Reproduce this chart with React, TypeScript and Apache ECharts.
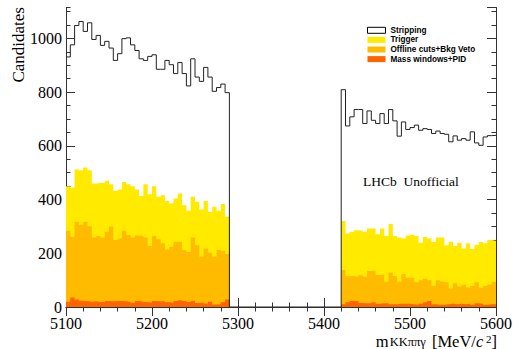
import React, { useEffect, useRef } from "react";
import * as echarts from "echarts";

// Bin layout (MeV/c^2)
const BIN_WIDTH = 5;
const LEFT_START = 5100;
const RIGHT_START = 5420;
const GAP_START = 5290;
const X_END = 5600;

// Stripping (outline)
const strippingLeft = [931, 976, 1048, 1063, 1026, 1058, 996, 1011, 974, 989, 964, 918, 943, 999, 1002, 976, 955, 924, 918, 933, 939, 885, 885, 918, 902, 869, 910, 869, 823, 924, 856, 840, 892, 856, 803, 817, 830, 798];
const strippingRight = [809, 674, 708, 735, 735, 683, 730, 695, 683, 720, 683, 735, 693, 636, 689, 661, 668, 677, 658, 664, 661, 646, 655, 646, 643, 615, 637, 621, 627, 621, 652, 611, 602, 633, 638, 639];

// Trigger (yellow)
const triggerLeft = [450, 445, 512, 509, 519, 509, 460, 462, 462, 470, 457, 432, 437, 465, 457, 450, 437, 413, 457, 420, 450, 410, 416, 395, 385, 404, 423, 379, 358, 410, 392, 363, 395, 354, 373, 358, 383, 336];
const triggerRight = [320, 274, 280, 286, 284, 280, 292, 292, 271, 292, 264, 309, 264, 259, 255, 266, 269, 264, 239, 261, 255, 242, 259, 259, 230, 243, 227, 239, 218, 237, 216, 232, 242, 237, 249, 247];

// Offline cuts + Bkg Veto (orange)
const offlineLeft = [284, 261, 317, 305, 317, 301, 259, 264, 259, 280, 299, 249, 255, 284, 268, 259, 266, 264, 259, 227, 264, 252, 237, 214, 224, 243, 243, 212, 206, 259, 230, 187, 218, 202, 187, 212, 209, 197];
const offlineRight = [138, 115, 115, 113, 118, 113, 134, 135, 119, 121, 94, 128, 115, 94, 123, 109, 109, 92, 100, 104, 100, 78, 100, 95, 92, 69, 88, 76, 83, 73, 78, 92, 72, 78, 84, 94];

// Mass windows + PID (red-orange)
const massLeft = [20, 35, 28, 23, 22, 20, 21, 19, 19, 22, 21, 22, 22, 21, 20, 16, 22, 20, 18, 17, 22, 21, 21, 18, 16, 22, 25, 22, 19, 22, 15, 17, 13, 20, 9, 10, 18, 28];
const massRight = [10, 18, 22, 22, 15, 14, 14, 18, 12, 14, 14, 10, 10, 12, 12, 12, 10, 8, 12, 18, 22, 10, 8, 8, 10, 12, 10, 12, 10, 12, 8, 14, 12, 8, 10, 10];

const xTicks = [5100, 5200, 5300, 5400, 5500, 5600];
const Y_MAX = 1115;

const legendNames = ["Stripping", "Trigger", "Offline cuts+Bkg Veto", "Mass windows+PID"];

function histPoints(left: number[], right: number[]): number[][] {
  const pts: number[][] = [];
  left.forEach((v, i) => pts.push([LEFT_START + i * BIN_WIDTH, v]));
  pts.push([GAP_START, 0]);
  right.forEach((v, i) => pts.push([RIGHT_START + i * BIN_WIDTH, v]));
  pts.push([X_END, right[right.length - 1]]);
  return pts;
}

const SERIF = "'Liberation Serif', 'Times New Roman', serif";
const SANS = "'Liberation Sans', Arial, sans-serif";

export default function App() {
  const ref = useRef<HTMLDivElement>(null);
  useEffect(() => {
    if (!ref.current) return;
    const chart = echarts.init(ref.current, undefined, { renderer: "svg" });
    const grid = { left: 66, top: 7.5, width: 431, height: 299.5 };
    const axisCol = "#333";
    const filled = (name: string, color: string, l: number[], r: number[], z: number) => ({
      name,
      type: "line",
      step: "end",
      data: histPoints(l, r),
      symbol: "none",
      color,
      lineStyle: { width: 0, opacity: 0 },
      areaStyle: { color, opacity: 1 },
      z,
      silent: true,
    });
    const yMinor = (pos: "left" | "right") => ({
      type: "value",
      position: pos,
      min: 0,
      max: Y_MAX,
      interval: 50,
      axisLine: { show: false },
      axisTick: { show: true, inside: true, length: 4.5, lineStyle: { color: axisCol } },
      axisLabel: { show: false },
      splitLine: { show: false },
    });
    const plain = (v: number) => String(v);
    chart.setOption({
      animation: false,
      backgroundColor: "#fff",
      grid,
      legend: {
        orient: "vertical",
        left: 367,
        top: 25.5,
        padding: 0,
        itemGap: 0,
        itemWidth: 18,
        itemHeight: 6,
        selectedMode: false,
        textStyle: { fontFamily: SANS, fontWeight: "bold", fontSize: 8.2, lineHeight: 9.6, color: "#000" },
        data: [
          { name: legendNames[0], icon: "rect", itemStyle: { color: "#fff", borderColor: "#000", borderWidth: 1 } },
          { name: legendNames[1], icon: "rect" },
          { name: legendNames[2], icon: "rect" },
          { name: legendNames[3], icon: "rect" },
        ],
      },
      xAxis: [
        {
          type: "value",
          min: xTicks[0],
          max: xTicks[xTicks.length - 1],
          interval: 100,
          position: "bottom",
          axisLine: { show: true, lineStyle: { color: axisCol, width: 1 } },
          axisTick: { inside: true, length: 9, lineStyle: { color: axisCol } },
          minorTick: { show: true, splitNumber: 5, length: 4.5, lineStyle: { color: axisCol } },
          axisLabel: { fontFamily: SERIF, fontSize: 16, lineHeight: 14, color: "#000", margin: 9.5, formatter: plain },
          splitLine: { show: false },
        },
        {
          type: "value",
          min: xTicks[0],
          max: xTicks[xTicks.length - 1],
          interval: 100,
          position: "top",
          axisLine: { show: true, lineStyle: { color: axisCol, width: 1 } },
          axisTick: { inside: true, length: 9, lineStyle: { color: axisCol } },
          minorTick: { show: true, splitNumber: 5, length: 4.5, lineStyle: { color: axisCol } },
          axisLabel: { show: false },
          splitLine: { show: false },
        },
      ],
      yAxis: [
        {
          type: "value",
          position: "left",
          min: 0,
          max: Y_MAX,
          interval: 200,
          axisLine: { show: true, lineStyle: { color: axisCol, width: 1 } },
          axisTick: { show: true, inside: true, length: 9, lineStyle: { color: axisCol } },
          axisLabel: { fontFamily: SERIF, fontSize: 16, lineHeight: 12, color: "#000", margin: 4, showMaxLabel: false, formatter: plain },
          splitLine: { show: false },
        },
        {
          type: "value",
          position: "right",
          min: 0,
          max: Y_MAX,
          interval: 200,
          axisLine: { show: true, lineStyle: { color: axisCol, width: 1 } },
          axisTick: { show: true, inside: true, length: 9, lineStyle: { color: axisCol } },
          axisLabel: { show: false },
          splitLine: { show: false },
        },
        yMinor("left"),
        yMinor("right"),
      ],
      series: [
        filled(legendNames[1], "#FFEA00", triggerLeft, triggerRight, 2),
        filled(legendNames[2], "#FFBB00", offlineLeft, offlineRight, 3),
        filled(legendNames[3], "#FF6400", massLeft, massRight, 4),
        {
          name: legendNames[0],
          type: "line",
          step: "end",
          data: histPoints(strippingLeft, strippingRight),
          symbol: "none",
          color: "#000",
          lineStyle: { color: "#222", width: 1 },
          z: 5,
          silent: true,
        },
      ],
      graphic: [
        {
          type: "text",
          x: 18,
          y: 7,
          rotation: Math.PI / 2,
          style: {
            text: "Candidates",
            fontFamily: SERIF,
            fontSize: 17,
            fill: "#000",
            align: "right",
            verticalAlign: "middle",
          },
        },
        {
          type: "text",
          x: 363,
          y: 181,
          style: {
            text: "LHCb  Unofficial",
            fontFamily: SERIF,
            fontSize: 13.5,
            fill: "#000",
            align: "left",
            verticalAlign: "middle",
          },
        },
        {
          type: "text",
          x: 497,
          y: 341,
          style: {
            text: "{a|m}{b|KK\u03c0\u03c0\u03b3}{a| [MeV/}{c|c}{d| 2}{a|]}",
            align: "right",
            verticalAlign: "middle",
            fill: "#000",
            rich: {
              a: { fontFamily: SERIF, fontSize: 16.5, lineHeight: 15, verticalAlign: "middle", fill: "#000" },
              b: { fontFamily: SERIF, fontSize: 12.5, lineHeight: 15, verticalAlign: "bottom", fill: "#000", padding: [0, 2, 0, 1] },
              c: { fontFamily: SERIF, fontStyle: "italic", fontSize: 16.5, lineHeight: 15, verticalAlign: "middle", fill: "#000" },
              d: { fontFamily: SERIF, fontSize: 11, lineHeight: 15, verticalAlign: "top", fill: "#000" },
            },
          },
        },
      ],
    });
    return () => chart.dispose();
  }, []);
  return <div ref={ref} style={{ width: 515, height: 349, position: "absolute", left: 0, top: 0 }} />;
}
